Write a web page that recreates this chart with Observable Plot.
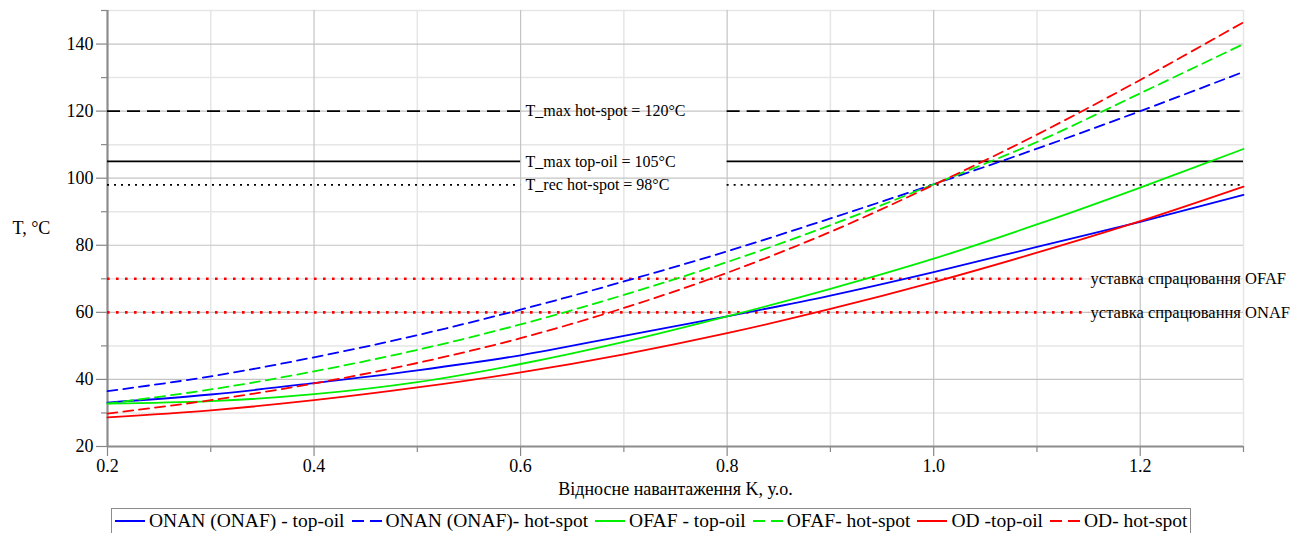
<!DOCTYPE html>
<html>
<head>
<meta charset="utf-8">
<script src="https://cdn.jsdelivr.net/npm/d3@7"></script>
<script src="https://cdn.jsdelivr.net/npm/@observablehq/plot@0.6"></script>
<style>
  body { margin: 0; background: #fff; }
  #legend {
    margin: 8px 0 0 111px; display: inline-flex; align-items: center;
    border: 1px solid #8c8c8c; padding: 0 3px 0 3px; height: 24px;
    font-size: 19.5px; color: #000; white-space: nowrap;
  }
  #legend .item { display: inline-flex; align-items: center; margin-right: 7px; }
  #legend .item:last-child { margin-right: 0; }
  #legend svg { margin-right: 4px; }
</style>
</head>
<body>
<div id="chart"></div>
<div id="legend" style="font-family:'Liberation Serif'"></div>
<script>
// ---- data ----
const K = [0.2, 0.3, 0.4, 0.5, 0.6, 0.7, 0.8, 0.9, 1.0, 1.1, 1.2, 1.3];
const onanTop = [33.1, 35.5, 38.9, 42.7, 47.2, 53.0, 58.8, 65.0, 72.0, 79.5, 87.0, 95.0];
const onanHot = [36.5, 40.9, 46.6, 53.2, 60.8, 69.2, 78.2, 88.0, 98.2, 108.8, 120.0, 131.7];
const ofafTop = [32.8, 33.5, 35.6, 39.2, 44.6, 51.2, 58.8, 67.0, 76.0, 86.2, 97.2, 108.7];
const ofafHot = [32.8, 37.0, 42.4, 48.8, 56.4, 65.2, 75.0, 86.0, 98.2, 110.8, 125.3, 140.0];
const odTop   = [28.7, 30.8, 33.8, 37.6, 42.1, 47.5, 53.8, 61.0, 69.0, 77.8, 87.2, 97.5];
const odHot   = [29.8, 33.8, 38.8, 44.9, 52.3, 61.3, 71.8, 84.0, 98.0, 113.0, 129.3, 146.5];

const seriesNames = ["ONAN (ONAF) - top-oil", "ONAN (ONAF)- hot-spot", "OFAF - top-oil",
                     "OFAF- hot-spot", "OD -top-oil", "OD- hot-spot"];
const seriesValues = [onanTop, onanHot, ofafTop, ofafHot, odTop, odHot];

const limitT = [120, 105, 98];
const limitLabels = ["T_max hot-spot = 120°C", "T_max top-oil = 105°C", "T_rec hot-spot = 98°C"];
const limitGapK = [0.6, 0.8];      // K range left free for the labels
const setT = [70, 60];
const setLabels = ["уставка спрацювання OFAF", "уставка спрацювання ONAF"];
const setEndK = 1.15;

const xDomain = [0.2, 1.3];
const yDomain = [20, 150];
const xMajor = [0.2, 0.4, 0.6, 0.8, 1.0, 1.2];
const xMajorLabels = ["0.2", "0.4", "0.6", "0.8", "1.0", "1.2"];
const xMinor = [0.3, 0.5, 0.7, 0.9, 1.1, 1.3];
const yMajor = [20, 40, 60, 80, 100, 120, 140];
const yMajorLabels = ["20", "40", "60", "80", "100", "120", "140"];
const yMinor = [30, 50, 70, 90, 110, 130, 150];
const xTitle = "Відносне навантаження K, у.о.";
const yTitle = "T, °C";

// ---- styles (kept apart from data) ----
const FONT = "Liberation Serif";
const seriesColors = ["#0000ff", "#0000ff", "#00ee00", "#00ee00", "#ff0000", "#ff0000"];
const seriesDash = [null, "10,6", null, "10,6", null, "10,6"];
const limitDash = ["13,7", null, "2,5"];

const rows = [];
seriesNames.forEach((s, i) => K.forEach((k, j) => rows.push({series: s, K: k, T: seriesValues[i][j]})));

const marks = [
  Plot.ruleX(xMinor, {stroke: "#e6e6e6", strokeWidth: 1.5}),
  Plot.ruleY(yMinor, {stroke: "#e6e6e6", strokeWidth: 1.5}),
  Plot.ruleX(xMajor.slice(1), {stroke: "#c4c4c4", strokeWidth: 1.2}),
  Plot.ruleY(yMajor.slice(1), {stroke: "#c4c4c4", strokeWidth: 1.2}),
  Plot.axisX(xMajor, {tickSize: 10, tickPadding: 3, stroke: "#888", strokeWidth: 1.2, tickFormat: (d, i) => xMajorLabels[i], label: null, fontSize: 18, fontFamily: FONT, fill: "#000"}),
  Plot.axisX(xMinor, {tickSize: 6, stroke: "#888", strokeWidth: 1.2, tickFormat: () => "", label: null}),
  Plot.axisY(yMajor, {tickSize: 11, tickPadding: 3, stroke: "#888", strokeWidth: 1.2, tickFormat: (d, i) => yMajorLabels[i], label: null, fontSize: 18, fontFamily: FONT, fill: "#000"}),
  Plot.axisY(yMinor, {tickSize: 6, stroke: "#888", strokeWidth: 1.2, tickFormat: () => "", label: null}),
  Plot.ruleX([xDomain[0]], {stroke: "#8c8c8c", strokeWidth: 2.2}),
  Plot.ruleY([yDomain[0]], {stroke: "#8c8c8c", strokeWidth: 2.2})
];

limitT.forEach((t, i) => {
  const segs = [{T: t, k1: xDomain[0], k2: limitGapK[0]}, {T: t, k1: limitGapK[1], k2: xDomain[1]}];
  marks.push(Plot.ruleY(segs, {y: "T", x1: "k1", x2: "k2", stroke: "#000", strokeWidth: limitDash[i] === "2,5" ? 1.6 : 1.8,
    strokeDasharray: limitDash[i] || undefined}));
  marks.push(Plot.text([limitLabels[i]], {x: limitGapK[0], y: t, dx: 5, textAnchor: "start", fontSize: 16, fontFamily: FONT, fill: "#000"}));
});
setT.forEach((t, i) => {
  marks.push(Plot.ruleY([{T: t, k1: xDomain[0], k2: setEndK}], {y: "T", x1: "k1", x2: "k2", stroke: "#ff0000",
    strokeWidth: 2.6, strokeDasharray: "2.6,6.4"}));
  marks.push(Plot.text([setLabels[i]], {x: setEndK, y: t, dx: 2, textAnchor: "start", fontSize: 16.5, fontFamily: FONT, fill: "#000"}));
});

seriesNames.forEach((s, i) => {
  marks.push(Plot.line(rows.filter(r => r.series === s), {x: "K", y: "T", stroke: seriesColors[i], strokeWidth: 1.8,
    strokeDasharray: seriesDash[i] || undefined, curve: "catmull-rom"}));
});

marks.push(Plot.text([yTitle], {frameAnchor: "left", dx: -95, textAnchor: "start", fontSize: 18, fontFamily: FONT, fill: "#000"}));
marks.push(Plot.text([xTitle], {frameAnchor: "bottom", dy: 48, fontSize: 18, fontFamily: FONT, fill: "#000"}));

const chart = Plot.plot({
  width: 1297, height: 500,
  marginLeft: 107, marginRight: 54, marginTop: 10, marginBottom: 54,
  x: {domain: xDomain},
  y: {domain: yDomain},
  style: {fontSize: "18px", color: "#000", background: "#fff"},
  marks
});
chart.setAttribute("font-family", FONT);
document.getElementById("chart").appendChild(chart);

// legend
const legend = document.getElementById("legend");
seriesNames.forEach((s, i) => {
  const item = document.createElement("span");
  item.className = "item";
  item.style.fontFamily = "'Liberation Serif'";
  const dash = seriesDash[i] ? ` stroke-dasharray="12,6"` : "";
  item.innerHTML = `<svg width="30" height="10"><line x1="0" x2="30" y1="5" y2="5" stroke="${seriesColors[i]}" stroke-width="2"${dash}/></svg>`;
  item.appendChild(document.createTextNode(s));
  legend.appendChild(item);
});
</script>
</body>
</html>
